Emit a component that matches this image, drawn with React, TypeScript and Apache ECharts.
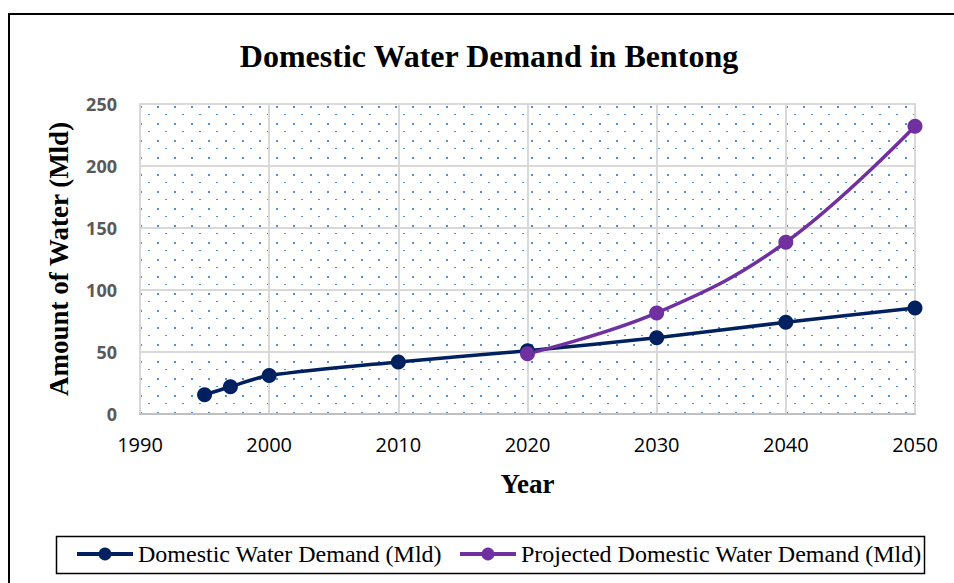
import React, { useEffect, useRef } from "react";
import * as echarts from "echarts";

// Observed demand, million litres per day
const demandYears = [1995, 1997, 2000, 2010, 2020, 2030, 2040, 2050];
const demandValues = [15.5, 22, 31, 42, 51, 61.5, 74, 85.5];

// Projected demand, million litres per day
const projectedYears = [2020, 2030, 2040, 2050];
const projectedValues = [48.5, 81.5, 138.5, 232];

const seriesNames = ["Domestic Water Demand (Mld)", "Projected Domestic Water Demand (Mld)"];

const serif = "'Liberation Serif', 'Times New Roman', serif";
const sans = "'Open Sans', 'Liberation Sans', sans-serif";

function makeDotTile(): HTMLCanvasElement {
  const c = document.createElement("canvas");
  c.width = 17;
  c.height = 17;
  const ctx = c.getContext("2d")!;
  ctx.fillStyle = "#ffffff";
  ctx.fillRect(0, 0, 17, 17);
  ctx.fillStyle = "#4f93d6";
  ctx.fillRect(4, 4, 2, 2);
  ctx.fillRect(12, 12, 2, 1);
  return c;
}

export default function App() {
  const ref = useRef<HTMLDivElement>(null);

  useEffect(() => {
    if (!ref.current) return;
    const chart = echarts.init(ref.current, undefined, { renderer: "svg" });
    const tile = makeDotTile();

    chart.setOption({
      animation: false,
      backgroundColor: "#ffffff",
      title: {
        text: "Domestic Water Demand in Bentong",
        left: 484,
        top: 35,
        textAlign: "center",
        textStyle: { fontFamily: serif, fontWeight: "bold", fontSize: 32, color: "#000" },
      },
      grid: {
        left: 140,
        top: 104,
        right: 39,
        bottom: 169,
        show: true,
        borderColor: "#d9d9d9",
        borderWidth: 2,
        backgroundColor: { image: tile, repeat: "repeat" },
      },
      legend: {
        left: 70,
        top: 537,
        itemWidth: 56,
        itemHeight: 16,
        itemGap: 16,
        lineStyle: { width: 4 },
        textStyle: { fontFamily: serif, fontSize: 24, color: "#000" },
        data: seriesNames,
      },
      xAxis: {
        type: "value",
        min: 1990,
        max: 2050,
        interval: 10,
        name: "Year",
        nameLocation: "middle",
        nameGap: 56,
        nameTextStyle: { fontFamily: serif, fontWeight: "bold", fontSize: 27, color: "#000" },
        axisLine: { show: true, lineStyle: { color: "#bfbfbf", width: 2 } },
        axisTick: { show: false },
        axisLabel: {
          fontFamily: sans,
          fontSize: 20,
          color: "#000",
          margin: 20,
          formatter: (v: number) => String(v),
        },
        splitLine: { show: true, lineStyle: { color: "#d9d9d9", width: 2 } },
      },
      yAxis: {
        type: "value",
        min: 0,
        max: 250,
        interval: 50,
        name: "Amount of Water (Mld)",
        nameLocation: "middle",
        nameGap: 68,
        nameTextStyle: { fontFamily: serif, fontWeight: "bold", fontSize: 27, color: "#000" },
        axisLine: { show: false },
        axisTick: { show: false },
        axisLabel: { fontFamily: sans, fontSize: 18, fontWeight: "bold", color: "#595959", margin: 23 },
        splitLine: { show: true, lineStyle: { color: "#d9d9d9", width: 2 } },
      },
      series: [
        {
          name: seriesNames[0],
          type: "line",
          smooth: 0.3,
          symbol: "circle",
          symbolSize: 15,
          data: demandYears.map((y, i) => [y, demandValues[i]]),
          lineStyle: { color: "#002060", width: 3.5 },
          itemStyle: { color: "#002060" },
        },
        {
          name: seriesNames[1],
          type: "line",
          smooth: 0.4,
          symbol: "circle",
          symbolSize: 15,
          data: projectedYears.map((y, i) => [y, projectedValues[i]]),
          lineStyle: { color: "#7030a0", width: 3.5 },
          itemStyle: { color: "#7030a0" },
          z: 3,
        },
      ],
      graphic: [
        {
          type: "rect",
          shape: { x: 9, y: 14, width: 980, height: 620 },
          style: { fill: "none", stroke: "#000", lineWidth: 2 },
          silent: true,
        },
        {
          type: "rect",
          shape: { x: 56.5, y: 536.5, width: 868, height: 37 },
          style: { fill: "none", stroke: "#000", lineWidth: 1.5 },
          silent: true,
        },
      ],
    });

    return () => chart.dispose();
  }, []);

  return (
    <div
      ref={ref}
      style={{ position: "absolute", left: 0, top: 0, width: 954, height: 583 }}
    />
  );
}
